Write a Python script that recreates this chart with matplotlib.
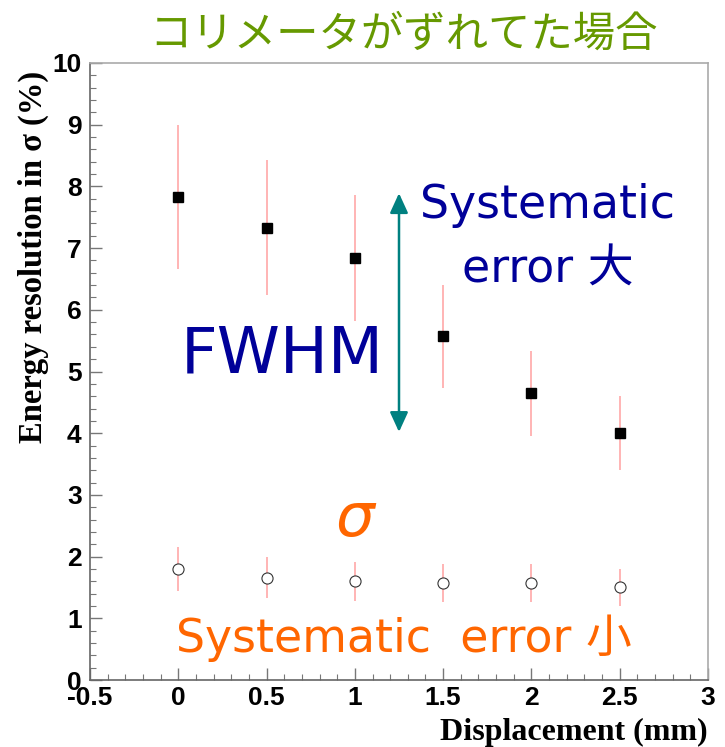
import numpy as np
from matplotlib import pyplot as plt
from matplotlib import font_manager
from matplotlib.ticker import MultipleLocator

# measured resolution vs collimator displacement
disp = [0.0, 0.5, 1.0, 1.5, 2.0, 2.5]
fwhm = [7.83, 7.33, 6.84, 5.57, 4.65, 4.00]
fwhm_err = [1.17, 1.09, 1.02, 0.83, 0.69, 0.60]
sigma = [1.80, 1.66, 1.60, 1.57, 1.57, 1.50]
sigma_err = [0.36, 0.33, 0.32, 0.31, 0.31, 0.30]

# double arrow marking the spread of the FWHM points
arrow_x = 1.25
arrow_y = [4.02, 7.89]

names = {f.name for f in font_manager.fontManager.ttflist}
tickfont = "Liberation Sans Narrow" if "Liberation Sans Narrow" in names else "Liberation Sans"
jp = ["DejaVu Sans", "Noto Sans CJK JP"]

fig = plt.figure(figsize=(7.25, 7.47), dpi=100)
ax = fig.add_axes([90 / 725, 67 / 747, 618 / 725, 617 / 747])

ax.errorbar(disp, fwhm, yerr=fwhm_err, fmt="s", color="black", ms=7.2,
            ecolor="#ffa8a8", elinewidth=1.2, capsize=0, zorder=3)
ax.errorbar(disp, sigma, yerr=sigma_err, fmt="o", mfc="white", mec="#333333",
            mew=0.8, ms=8, ecolor="#ffa8a8", elinewidth=1.2, capsize=0, zorder=3)

ax.annotate("", xy=(arrow_x, arrow_y[1]), xytext=(arrow_x, arrow_y[0]),
            arrowprops=dict(arrowstyle="<|-|>,head_length=1.2,head_width=0.55",
                            color="#008080", lw=1.8, shrinkA=0, shrinkB=0))

ax.set_xlim(-0.5, 3)
ax.set_ylim(0, 10)
ax.xaxis.set_major_locator(MultipleLocator(0.5))
ax.xaxis.set_minor_locator(MultipleLocator(0.1))
ax.yaxis.set_major_locator(MultipleLocator(1))
ax.yaxis.set_minor_locator(MultipleLocator(0.2))
ax.set_xticks(np.arange(-0.5, 3.01, 0.5))
ax.set_xticklabels(["-0.5", "0", "0.5", "1", "1.5", "2", "2.5", "3"])
ax.tick_params(which="both", direction="in", top=False, right=False,
               color="#777777", labelsize=19)
ax.tick_params(which="major", length=8.5, width=1)
ax.tick_params(which="minor", length=4.2, width=0.8)
ax.tick_params(axis="y", pad=6)
ax.tick_params(axis="x", pad=4)
for lab in ax.get_xticklabels() + ax.get_yticklabels():
    lab.set_fontfamily(tickfont)
    lab.set_fontweight("bold")

for side in ["left", "bottom"]:
    ax.spines[side].set_color("#666666")
    ax.spines[side].set_linewidth(1.2)
for side in ["top", "right"]:
    ax.spines[side].set_color("#aaaaaa")
    ax.spines[side].set_linewidth(1.2)

ax.set_xlabel("Displacement (mm)", loc="right", family="Liberation Serif",
              fontweight="bold", fontsize=23, labelpad=6)
ax.set_ylabel("Energy resolution in \u03c3 (%)", loc="top", family="Liberation Serif",
              fontweight="bold", fontsize=23.5, labelpad=2)
ax.yaxis.set_label_coords(-0.066, 0.987, transform=ax.transAxes)

fig.text(0.557, 0.953, "コリメータがずれてた場合", ha="center", va="center",
         family="Noto Sans CJK JP", fontsize=30.5, color="#669900")

ax.text(2.09, 7.17, "Systematic\nerror 大", ha="center", va="center",
        family=jp, fontsize=33, color="#000099", linespacing=1.55)
ax.text(0.59, 5.27, "FWHM", ha="center", va="center",
        family="DejaVu Sans", fontsize=46, color="#000099")
ax.text(1.0, 2.6, "\u03c3", ha="center", va="center", family="DejaVu Sans",
        style="italic", fontsize=44, color="#ff6600")
ax.text(1.28, 0.68, "Systematic  error 小", ha="center", va="center",
        family=jp, fontsize=33, color="#ff6600")

fig.savefig("out.png", dpi=100)
